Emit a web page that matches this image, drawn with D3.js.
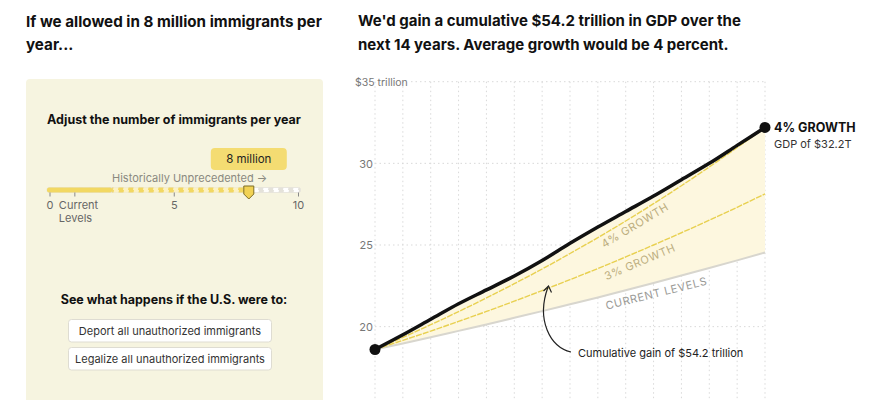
<!DOCTYPE html>
<html>
<head>
<meta charset="utf-8">
<script src="https://cdnjs.cloudflare.com/ajax/libs/d3/7.8.5/d3.min.js"></script>
<style>
  body { margin: 0; background: #fff; }
  svg text { font-family: "Inter", "Roboto", sans-serif; }
</style>
</head>
<body>
<div id="chart"></div>
<script>

// data
var years = [0, 1, 2, 3, 4, 5, 6, 7, 8, 9, 10, 11, 12, 13, 14];
var scenario = [18.6, 19.5, 20.45, 21.4, 22.25, 23.1, 24.05, 25.1, 26.1, 27.05, 28.0, 29.0, 30.0, 31.1, 32.2];
var growth4 = [18.6, 19.34, 20.12, 20.92, 21.76, 22.63, 23.53, 24.48, 25.45, 26.47, 27.53, 28.63, 29.78, 30.97, 32.2];
var growth3 = [18.6, 19.16, 19.73, 20.32, 20.93, 21.56, 22.21, 22.88, 23.56, 24.27, 25.0, 25.75, 26.52, 27.31, 28.13];
var current = [18.6, 18.97, 19.35, 19.74, 20.13, 20.54, 20.95, 21.37, 21.79, 22.23, 22.67, 23.13, 23.59, 24.06, 24.54];
var yTicks = [20, 25, 30, 35];

var sliderTicks = [0, 1, 5, 10];
var sliderValue = 8;
var currentLevel = 1;
var unprecedentedFrom = 2.5;

var W = 870, H = 400;

var svg = d3.select("#chart").append("svg")
    .attr("width", W)
    .attr("height", H);

// ---------- left: titles + control panel ----------
var left = svg.append("g");

left.append("text").attr("x", 26).attr("y", 27)
    .attr("font-size", 15.2).attr("font-weight", 700).attr("fill", "#111")
    .text("If we allowed in 8 million immigrants per");
left.append("text").attr("x", 26).attr("y", 50)
    .attr("font-size", 15.2).attr("font-weight", 700).attr("fill", "#111")
    .text("year...");

left.append("rect")
    .attr("x", 26).attr("y", 79)
    .attr("width", 297).attr("height", 340)
    .attr("rx", 4)
    .attr("fill", "#f6f4e0");

left.append("text").attr("x", 174).attr("y", 124)
    .attr("text-anchor", "middle")
    .attr("font-size", 12.5).attr("font-weight", 700).attr("fill", "#111")
    .text("Adjust the number of immigrants per year");

// slider
var s = d3.scaleLinear().domain([0, 10]).range([50, 298.5]);

var defs = svg.append("defs");
var p1 = defs.append("pattern").attr("id", "stripeY")
    .attr("patternUnits", "userSpaceOnUse")
    .attr("width", 10).attr("height", 5);
p1.append("rect").attr("width", 10).attr("height", 5).attr("fill", "#f2d862");
p1.append("polygon").attr("points", "3,5 8,5 9,0 4,0").attr("fill", "#fbf1c4");

var p2 = defs.append("pattern").attr("id", "stripeG")
    .attr("patternUnits", "userSpaceOnUse")
    .attr("width", 10).attr("height", 5);
p2.append("rect").attr("width", 10).attr("height", 5).attr("fill", "#e4e2da");
p2.append("polygon").attr("points", "3,5 8,5 9,0 4,0").attr("fill", "#ffffff");

var trackY = 187.5, trackH = 5;

left.append("rect")
    .attr("x", s(0) - 3).attr("y", trackY)
    .attr("width", s(10) - s(0) + 5).attr("height", trackH)
    .attr("rx", 2)
    .attr("fill", "url(#stripeG)")
    .attr("stroke", "#e4e2da").attr("stroke-width", 0.8);

left.append("rect")
    .attr("x", s(unprecedentedFrom)).attr("y", trackY)
    .attr("width", s(sliderValue) - s(unprecedentedFrom)).attr("height", trackH)
    .attr("fill", "url(#stripeY)");

left.append("rect")
    .attr("x", s(0) - 3).attr("y", trackY)
    .attr("width", s(unprecedentedFrom) - s(0) + 3).attr("height", trackH)
    .attr("rx", 2)
    .attr("fill", "#f2d862");

left.selectAll(".stick")
    .data(sliderTicks)
  .enter().append("line")
    .attr("class", "stick")
    .attr("x1", function(d) { return s(d); })
    .attr("x2", function(d) { return s(d); })
    .attr("y1", trackY + trackH)
    .attr("y2", trackY + trackH + 4)
    .attr("stroke", "#888").attr("stroke-width", 1);

left.append("text").attr("x", s(0)).attr("y", 208.5)
    .attr("text-anchor", "middle").attr("font-size", 11).attr("fill", "#666")
    .text("0");
left.append("text").attr("x", s(5)).attr("y", 208.5)
    .attr("text-anchor", "middle").attr("font-size", 11).attr("fill", "#666")
    .text("5");
left.append("text").attr("x", s(10)).attr("y", 208.5)
    .attr("text-anchor", "middle").attr("font-size", 11).attr("fill", "#666")
    .text("10");
left.append("text").attr("x", s(currentLevel) - 16).attr("y", 208.5)
    .attr("font-size", 11).attr("fill", "#666")
    .text("Current");
left.append("text").attr("x", s(currentLevel) - 16).attr("y", 221.5)
    .attr("font-size", 11).attr("fill", "#666")
    .text("Levels");

left.append("text").attr("x", 112).attr("y", 181.5)
    .attr("font-size", 11).attr("fill", "#8a897f")
    .text("Historically Unprecedented \u2192");

// tooltip
var hx = s(sliderValue);
left.append("rect")
    .attr("x", hx - 38).attr("y", 148)
    .attr("width", 76).attr("height", 22)
    .attr("rx", 4)
    .attr("fill", "#f4dc72");
left.append("text").attr("x", hx).attr("y", 163)
    .attr("text-anchor", "middle").attr("font-size", 11.5).attr("fill", "#222")
    .text("8 million");

// handle
left.append("path")
    .attr("d", "M" + (hx - 5) + ",186 L" + (hx + 5) + ",186 L" + (hx + 5) + ",194 L" + hx + ",199 L" + (hx - 5) + ",194 Z")
    .attr("fill", "#f1d255")
    .attr("stroke", "#7d6d26").attr("stroke-width", 1);

left.append("text").attr("x", 174).attr("y", 304)
    .attr("text-anchor", "middle")
    .attr("font-size", 12.5).attr("font-weight", 700).attr("fill", "#111")
    .text("See what happens if the U.S. were to:");

var buttons = ["Deport all unauthorized immigrants", "Legalize all unauthorized immigrants"];
left.selectAll(".btn")
    .data(buttons)
  .enter().append("rect")
    .attr("class", "btn")
    .attr("x", 68.5)
    .attr("y", function(d, i) { return 319.5 + i * 28; })
    .attr("width", 203).attr("height", 22.5)
    .attr("rx", 3)
    .attr("fill", "#fff")
    .attr("stroke", "#dedcd2");
left.selectAll(".btnlabel")
    .data(buttons)
  .enter().append("text")
    .attr("class", "btnlabel")
    .attr("x", 170)
    .attr("y", function(d, i) { return 334.5 + i * 28; })
    .attr("text-anchor", "middle")
    .attr("font-size", 11).attr("fill", "#333")
    .text(function(d) { return d; });

// ---------- right: chart ----------
var right = svg.append("g");

right.append("text").attr("x", 358).attr("y", 26)
    .attr("font-size", 15).attr("font-weight", 700).attr("fill", "#111")
    .text("We'd gain a cumulative $54.2 trillion in GDP over the");
right.append("text").attr("x", 358).attr("y", 50)
    .attr("font-size", 15).attr("font-weight", 700).attr("fill", "#111")
    .text("next 14 years. Average growth would be 4 percent.");

var x = d3.scaleLinear().domain([0, 14]).range([375, 765]);
var y = d3.scaleLinear().domain([15, 35]).range([408.3, 81.7]);

// grid
right.selectAll(".vgrid")
    .data(years)
  .enter().append("line")
    .attr("class", "vgrid")
    .attr("x1", function(d) { return x(d); })
    .attr("x2", function(d) { return x(d); })
    .attr("y1", y(35)).attr("y2", H)
    .attr("stroke", "#d9d9d9").attr("stroke-dasharray", "1.5,3");

right.selectAll(".hgrid")
    .data(yTicks)
  .enter().append("line")
    .attr("class", "hgrid")
    .attr("x1", function(d) { return d == 35 ? 411 : x(0); })
    .attr("x2", x(14))
    .attr("y1", function(d) { return y(d); })
    .attr("y2", function(d) { return y(d); })
    .attr("stroke", "#d9d9d9").attr("stroke-dasharray", "1.5,3");

var yAxis = d3.axisLeft(y)
    .tickValues(yTicks)
    .tickSize(0)
    .tickFormat(function(d) { return d == 35 ? "" : d; });

var ya = right.append("g")
    .attr("transform", "translate(373,0)")
    .call(yAxis);
ya.select(".domain").remove();
ya.selectAll("text")
    .attr("font-size", 11).attr("fill", "#777")
    .attr("x", 0).attr("dy", "0.35em")
    .style("font-family", "Inter, Roboto, sans-serif");

right.append("text").attr("x", 355).attr("y", 85.5)
    .attr("font-size", 10.5).attr("fill", "#777")
    .text("$35 trillion");

// area between scenario and current levels
var area = d3.area()
    .x(function(d, i) { return x(years[i]); })
    .y0(function(d, i) { return y(current[i]); })
    .y1(function(d) { return y(d); })
    .curve(d3.curveMonotoneX);

right.append("path")
    .datum(scenario)
    .attr("d", area)
    .attr("fill", "#fdf7df");

var line = d3.line()
    .x(function(d, i) { return x(years[i]); })
    .y(function(d) { return y(d); })
    .curve(d3.curveMonotoneX);

right.append("path").datum(current).attr("d", line)
    .attr("fill", "none").attr("stroke", "#d8d6ce").attr("stroke-width", 2);
right.append("path").datum(growth3).attr("d", line)
    .attr("fill", "none").attr("stroke", "#e8d050").attr("stroke-width", 1.4)
    .attr("stroke-dasharray", "6,1.2");
right.append("path").datum(growth4).attr("d", line)
    .attr("fill", "none").attr("stroke", "#e8d050").attr("stroke-width", 1.4)
    .attr("stroke-dasharray", "6,1.2");
right.append("path").datum(scenario).attr("d", line)
    .attr("fill", "none").attr("stroke", "#111").attr("stroke-width", 3.5)
    .attr("stroke-linejoin", "round");

right.selectAll(".enddot")
    .data([0, 14])
  .enter().append("circle")
    .attr("class", "enddot")
    .attr("cx", function(i) { return x(years[i]); })
    .attr("cy", function(i) { return y(scenario[i]); })
    .attr("r", 5.5)
    .attr("fill", "#111");

// line labels, centred a little under each line
var lineLabels = [
  {t: "4% GROWTH", yr: 9.33, v: growth4, dy: 10, rot: -31, c: "#bcae7e"},
  {t: "3% GROWTH", yr: 9.51, v: growth3, dy: 11, rot: -23, c: "#bcae7e"},
  {t: "CURRENT LEVELS", yr: 10.1, v: current, dy: 11, rot: -14, c: "#9a9a96"}
];
right.selectAll(".llab")
    .data(lineLabels)
  .enter().append("text")
    .attr("class", "llab")
    .attr("transform", function(d) {
      var i = Math.floor(d.yr), f = d.yr - i;
      var val = d.v[i] + (d.v[i + 1] - d.v[i]) * f;
      return "translate(" + x(d.yr) + "," + (y(val) + d.dy) + ") rotate(" + d.rot + ")";
    })
    .attr("text-anchor", "middle")
    .attr("dy", "0.35em")
    .attr("font-size", 11).attr("letter-spacing", 0.6)
    .attr("fill", function(d) { return d.c; })
    .text(function(d) { return d.t; });

right.append("text").attr("x", x(14) + 9).attr("y", y(scenario[14]) + 5)
    .attr("font-size", 12.5).attr("font-weight", 700).attr("fill", "#111")
    .text("4% GROWTH");
right.append("text").attr("x", x(14) + 9).attr("y", y(scenario[14]) + 21)
    .attr("font-size", 11).attr("fill", "#333")
    .text("GDP of $32.2T");

// annotation
right.append("path")
    .attr("d", "M571,352 C550,347 536,320 548,287")
    .attr("fill", "none").attr("stroke", "#222").attr("stroke-width", 1.2);
right.append("path")
    .attr("d", "M543.5,291 L548.5,286 L551.5,292.5")
    .attr("fill", "none").attr("stroke", "#222").attr("stroke-width", 1.2);
right.append("text").attr("x", 578).attr("y", 356.5)
    .attr("font-size", 11).attr("fill", "#222")
    .text("Cumulative gain of $54.2 trillion");

</script>
</body>
</html>
